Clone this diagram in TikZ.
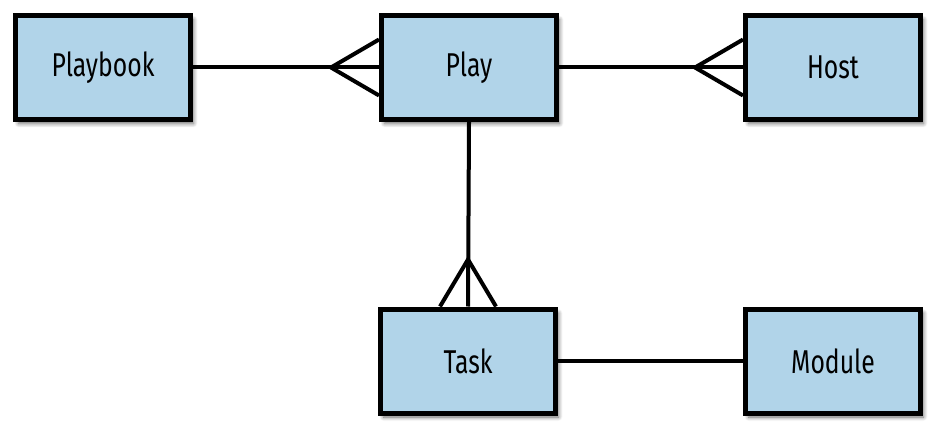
\documentclass[tikz,border=0pt]{standalone}
\usepackage{fontspec}
\setmainfont{Fira Sans}[FakeStretch=0.75]
\usetikzlibrary{calc,shadows.blur}
\definecolor{boxblue}{RGB}{177,212,233}
\tikzset{
  entity/.style={draw=black, line width=5pt, fill=boxblue, minimum width=175pt, minimum height=104pt,
    inner sep=0pt, font=\fontsize{33}{38}\selectfont,
    blur shadow={shadow xshift=3pt, shadow yshift=-4pt, shadow blur steps=6, shadow blur radius=4pt, shadow opacity=60}},
  link/.style={draw=black, line width=4pt}
}
\begin{document}
\begin{tikzpicture}[x=1pt,y=-1pt]
\useasboundingbox (0,0) rectangle (949,443);
\node[entity] (playbook) at (103,67.5) {Playbook};
\node[entity] (play) at (469,67.5) {Play};
\node[entity] (host) at (833,67.5) {Host};
\node[entity] (task) at (468,361) {Task};
\node[entity] (module) at (833,361) {Module};
% connectors
\coordinate (a1) at ($(play.west)+(-48,0)$);
\draw[link] (playbook.east) -- (play.west);
\draw[link] ($(play.west)+(0,-28)$) -- (a1) -- ($(play.west)+(0,28)$);
\coordinate (a2) at ($(host.west)+(-48,0)$);
\draw[link] (play.east) -- (host.west);
\draw[link] ($(host.west)+(0,-28)$) -- (a2) -- ($(host.west)+(0,28)$);
\coordinate (a3) at ($(task.north)+(0,-47)$);
\draw[link] (play.south) -- (task.north);
\draw[link] ($(task.north)+(-28,0)$) -- (a3) -- ($(task.north)+(28,0)$);
\draw[link] (task.east) -- (module.west);
\end{tikzpicture}
\end{document}
